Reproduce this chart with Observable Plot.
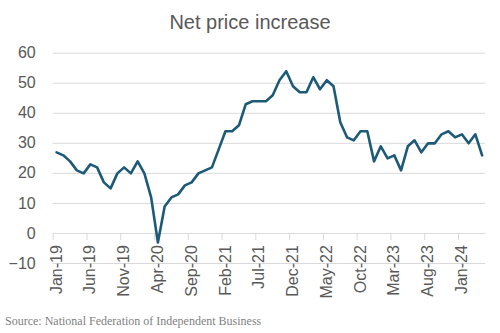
<!DOCTYPE html>
<html>
<head>
<meta charset="utf-8">
<script src="https://cdn.jsdelivr.net/npm/d3@7"></script>
<script src="https://cdn.jsdelivr.net/npm/@observablehq/plot@0.6"></script>
<style>
  body { margin: 0; background: #fff; }
  #wrap { width: 500px; height: 333px; position: relative; overflow: hidden; }
  #title { height: 38px; box-sizing: border-box; padding-top: 11px; line-height: 20px;
           font: 20px "Liberation Sans", Arial, sans-serif; color: #595959; text-align: center; }
  #caption { padding-top: 4px; padding-left: 5px; line-height: 16px;
             font: 12px "Liberation Serif", serif; color: #7f7f7f; }
</style>
</head>
<body>
<div id="wrap">
  <div id="title">Net price increase</div>
  <div id="chart"></div>
  <div id="caption">Source: National Federation of Independent Business</div>
</div>
<script>
// Monthly values, Jan-19 .. Apr-24
const values = [
  27, 26, 24, 21, 20, 23, 22, 17, 15, 20, 22, 20,   // 2019
  24, 20, 12, -3, 9, 12, 13, 16, 17, 20, 21, 22,    // 2020
  28, 34, 34, 36, 43, 44, 44, 44, 46, 51, 54, 49,   // 2021
  47, 47, 52, 48, 51, 49, 37, 32, 31, 34, 34, 24,   // 2022
  29, 25, 26, 21, 29, 31, 27, 30, 30, 33, 34, 32,   // 2023
  33, 30, 33, 26                                    // 2024
];
const tickLabels = ["Jan-19","Jun-19","Nov-19","Apr-20","Sep-20","Feb-21","Jul-21",
                    "Dec-21","May-22","Oct-22","Mar-23","Aug-23","Jan-24"];
const labelEvery = 5;
const yTicks = [-10, 0, 10, 20, 30, 40, 50, 60];

const data = values.map((v, i) => ({i, v}));
const tickBounds = tickLabels.map((d, k) => k * labelEvery);

const chart = Plot.plot({
  width: 500,
  height: 272,
  marginTop: 14.7,
  marginBottom: 47,
  marginLeft: 52.7,
  marginRight: 15,
  style: {fontFamily: "'Liberation Sans', Arial, sans-serif", fontSize: "16px", color: "#595959", background: "#fff"},
  x: {domain: [0, values.length], axis: null},
  y: {domain: [-10, 60], axis: null},
  marks: [
    Plot.gridY(yTicks, {stroke: "#d9d9d9", strokeOpacity: 1, strokeWidth: 1}),
    Plot.axisY(yTicks, {tickSize: 0, tickPadding: 17.5, fill: "#595959", fontSize: 16, label: null}),
    Plot.axisX(tickBounds, {tickSize: 7, tickFormat: () => "", stroke: "#d9d9d9", strokeOpacity: 1, dy: -30, label: null}),
    Plot.text(tickLabels, {
      x: (d, k) => k * labelEvery + 0.5,
      y: 0,
      text: d => d,
      rotate: -90,
      textAnchor: "end",
      lineAnchor: "middle",
      dy: 11.7,
      fill: "#595959",
      fontSize: 16
    }),
    Plot.line(data, {x: d => d.i + 0.5, y: "v", stroke: "#1c5a78", strokeWidth: 2.6,
                     strokeLinejoin: "round", strokeLinecap: "round"})
  ]
});
document.getElementById("chart").appendChild(chart);
</script>
</body>
</html>
